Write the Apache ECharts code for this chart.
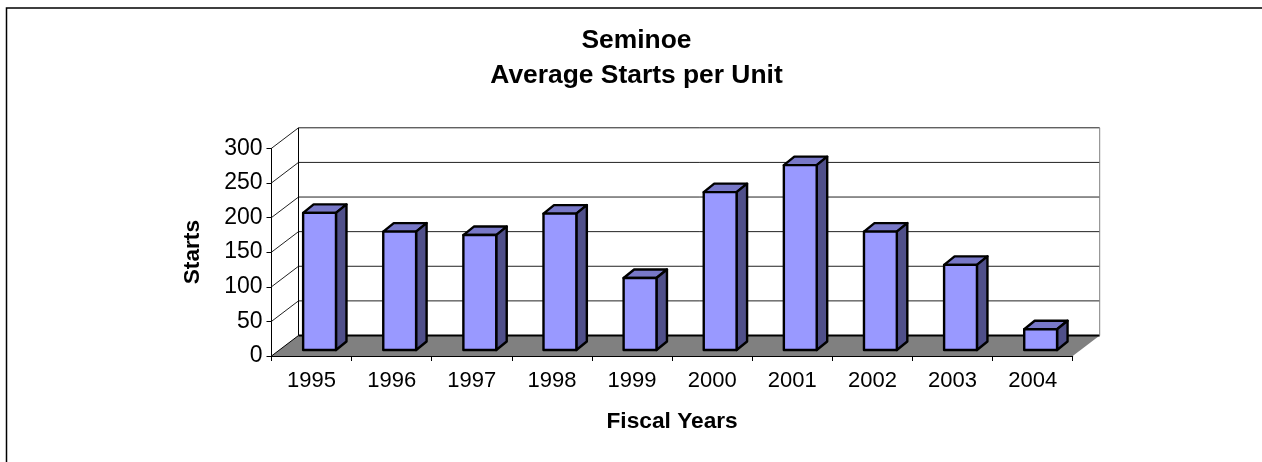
<!DOCTYPE html>
<html><head><meta charset="utf-8">
<style>html,body{margin:0;padding:0;background:#fff}#c{width:1262px;height:462px}</style>
<script src="https://cdn.jsdelivr.net/npm/echarts@6/dist/echarts.min.js"></script>
</head><body><div id="c"></div>
<script>
var categories = ['1995','1996','1997','1998','1999','2000','2001','2002','2003','2004'];
var starts = [198,171,166,197,104,228,267,171,123,30];
var yTicks = [50,100,150,200,250,300];

var DEPTH_X = 27, DEPTH_Y = -20.5;
var BAR_SHIFT_X = 8, BAR_SHIFT_Y = -6;
var BAR_D_X = 10.5, BAR_D_Y = -8.5;
var BAR_RATIO = 0.41;
var FONT = '"Liberation Sans", Arial, sans-serif';

function wallItem(params, api) {
  var cs = params.coordSys;
  var y = api.coord([0, api.value(0)])[1];
  return {type:'polyline', silent:true, shape:{points:[
      [cs.x, y],[cs.x+DEPTH_X, y+DEPTH_Y],[cs.x+cs.width+DEPTH_X, y+DEPTH_Y]]},
    style:{stroke:'#222', lineWidth:1, fill:null}};
}
function floorItem(params, api) {
  var cs = params.coordSys, b = cs.y+cs.height;
  return {type:'group', children:[
    {type:'polygon', shape:{points:[[cs.x,b],[cs.x+DEPTH_X,b+DEPTH_Y],[cs.x+cs.width+DEPTH_X,b+DEPTH_Y],[cs.x+cs.width,b]]},
      style:{fill:'#808080', stroke:null}},
    {type:'line', shape:{x1:cs.x+DEPTH_X,y1:b+DEPTH_Y,x2:cs.x+cs.width+DEPTH_X,y2:b+DEPTH_Y}, style:{stroke:'#000',lineWidth:2}},
    {type:'line', shape:{x1:cs.x+DEPTH_X,y1:cs.y+DEPTH_Y,x2:cs.x+DEPTH_X,y2:b+DEPTH_Y}, style:{stroke:'#000',lineWidth:1}},
    {type:'line', shape:{x1:cs.x+cs.width+DEPTH_X,y1:cs.y+DEPTH_Y,x2:cs.x+cs.width+DEPTH_X,y2:b+DEPTH_Y}, style:{stroke:'#808080',lineWidth:1}},
    {type:'line', shape:{x1:cs.x,y1:b,x2:cs.x+DEPTH_X,y2:b+DEPTH_Y}, style:{stroke:'#000',lineWidth:1}}
  ]};
}
function barItem(params, api) {
  var size = api.size([1,0])[0];
  var w = size*BAR_RATIO;
  var base = api.coord([api.value(0), 0]);
  var top = api.coord([api.value(0), api.value(1)]);
  var l = base[0]-w/2+BAR_SHIFT_X, r = l+w;
  var yb = base[1]+BAR_SHIFT_Y, yt = top[1]+BAR_SHIFT_Y;
  var st = {stroke:'#000', lineWidth:2.4, lineJoin:'round'};
  function s(fill){return Object.assign({fill:fill},st);}
  return {type:'group', children:[
    {type:'polygon', shape:{points:[[l,yt],[l+BAR_D_X,yt+BAR_D_Y],[r+BAR_D_X,yt+BAR_D_Y],[r,yt]]}, style:s('#7878c8')},
    {type:'polygon', shape:{points:[[r,yt],[r+BAR_D_X,yt+BAR_D_Y],[r+BAR_D_X,yb+BAR_D_Y],[r,yb]]}, style:s('#50508a')},
    {type:'rect', shape:{x:l,y:yt,width:w,height:yb-yt}, style:s('#9999ff')}
  ]};
}
var chart = echarts.init(document.getElementById('c'), null, {renderer:'canvas'});
chart.setOption({
  animation:false,
  backgroundColor:'#fff',
  title:{text:'Seminoe\nAverage Starts per Unit', left:631.5, top:18, textAlign:'center',
    textStyle:{fontFamily:FONT,fontWeight:'bold',fontSize:26.4,lineHeight:35,color:'#000'}},
  graphic:[{type:'polyline', silent:true, shape:{points:[[6.5,462],[6.5,8],[1262,8]]}, style:{stroke:'#000',lineWidth:1.5,fill:null}}],
  grid:{left:271.5, width:801.2, top:148.3, height:207.7},
  xAxis:{type:'category', data:categories, boundaryGap:true,
    name:'Fiscal Years', nameLocation:'middle', nameGap:54,
    nameTextStyle:{fontFamily:FONT,fontWeight:'bold',fontSize:22.7,color:'#000'},
    axisLine:{lineStyle:{color:'#000',width:1}},
    axisTick:{show:true,alignWithLabel:false,length:5,lineStyle:{color:'#000'}},
    axisLabel:{fontFamily:FONT,fontSize:22,color:'#000',margin:14}},
  yAxis:{type:'value', min:0, max:300, interval:50,
    name:'Starts', nameLocation:'middle', nameGap:67,
    nameTextStyle:{fontFamily:FONT,fontWeight:'bold',fontSize:22.7,color:'#000'},
    axisLine:{show:true,lineStyle:{color:'#000',width:1}},
    axisTick:{show:true,length:5,lineStyle:{color:'#000'}},
    splitLine:{show:false},
    axisLabel:{fontFamily:FONT,fontSize:23,color:'#000',margin:9}},
  series:[
    {type:'custom', z:1, data:yTicks.map(function(v){return [v];}), renderItem:wallItem, encode:{y:0}, silent:true},
    {type:'custom', z:2, data:[[0]], renderItem:floorItem, encode:{y:0}, silent:true},
    {type:'custom', z:3, data:starts.map(function(v,i){return [i,v];}), renderItem:barItem, encode:{x:0,y:1}}
  ]
});
</script></body></html>
